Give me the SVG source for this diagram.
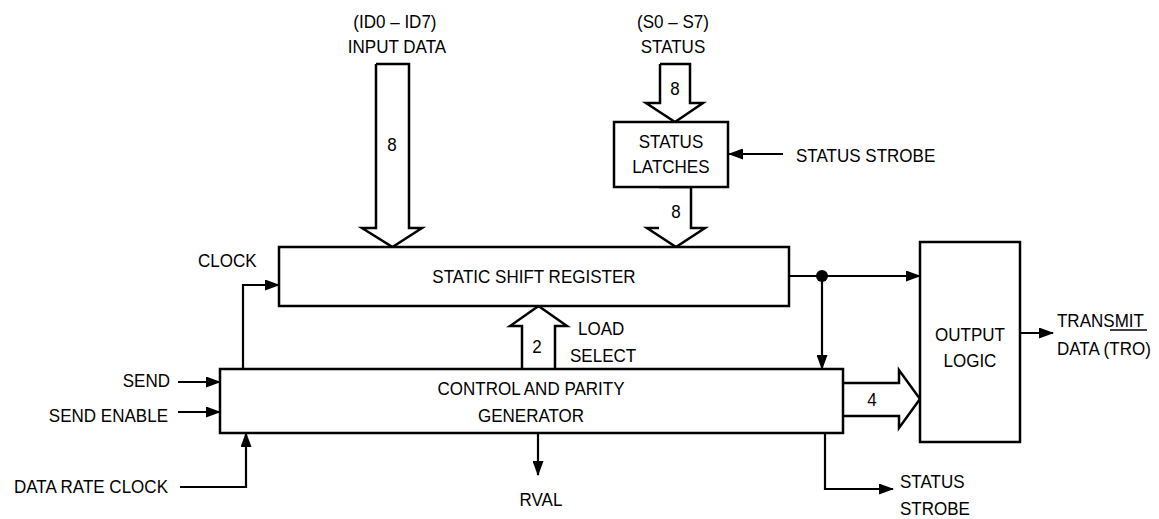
<svg xmlns="http://www.w3.org/2000/svg" width="1159" height="519" viewBox="0 0 1159 519">
<style>
text{font-family:"Liberation Sans",Arial,Helvetica,sans-serif;font-size:18.5px;fill:#000}
.m{text-anchor:middle}
.e{text-anchor:end}
.box{fill:#fff;stroke:#000;stroke-width:2.5}
.bus{fill:#fff;stroke:#000;stroke-width:2.5;stroke-linejoin:miter}
.ln{fill:none;stroke:#000;stroke-width:2.2}
.arr{marker-end:url(#ah)}
</style>
<defs>
<marker id="ah" markerUnits="userSpaceOnUse" markerWidth="15" markerHeight="11" refX="14" refY="5.5" orient="auto">
<path d="M0,0 L15,5.5 L0,11 z" fill="#000"/>
</marker>
</defs>
<rect width="1159" height="519" fill="#fff"/>

<g id="connectors">
<polyline class="bus" points="376,64 409,64 409,228 422,228 392.5,247 362,228 376,228 376,64"/>
<polyline class="bus" points="660,64 690,64 690,103 703,103 675,122 646,103 660,103 660,64"/>
<polyline class="bus" points="659,187 691,187 691,228 705,228 676,247 647,228 659,228"/>
<polyline class="bus" points="522,369 522,326 510,326 538.5,306 567,326 555,326 555,369"/>
<polyline class="bus" points="843,383 899,383 899,370 920,399 899,428 899,416 843,416"/>
<line class="ln arr" x1="783" y1="154" x2="729" y2="154"/>
<line class="ln arr" x1="789" y1="276" x2="920" y2="276"/>
<circle cx="822" cy="276" r="6" fill="#000"/>
<line class="ln arr" x1="822" y1="276" x2="822" y2="369"/>
<polyline class="ln arr" points="243,369 243,285 279,285"/>
<line class="ln arr" x1="178" y1="382" x2="220" y2="382"/>
<line class="ln arr" x1="178" y1="412" x2="220" y2="412"/>
<polyline class="ln arr" points="180,487 246,487 246,433"/>
<line class="ln arr" x1="538" y1="433" x2="538" y2="475"/>
<polyline class="ln arr" points="825,433 825,489 893,489"/>
<line class="ln arr" x1="1020" y1="333" x2="1053" y2="333"/>
</g>

<g id="status-latches">
<rect class="box" x="614" y="122" width="114" height="65"/>
<g transform="scale(0.92 1)">
<text class="m" x="729.3" y="148">STATUS</text>
<text class="m" x="729.3" y="173">LATCHES</text>
</g>
</g>

<g id="shift-register">
<rect class="box" x="279" y="247" width="510" height="59"/>
<g transform="scale(0.92 1)">
<text class="m" x="580.4" y="283">STATIC SHIFT REGISTER</text>
</g>
</g>

<g id="control-parity">
<rect class="box" x="220" y="369" width="623" height="64"/>
<g transform="scale(0.92 1)">
<text class="m" x="577.2" y="395">CONTROL AND PARITY</text>
<text class="m" x="577.2" y="422">GENERATOR</text>
</g>
</g>

<g id="output-logic">
<rect class="box" x="920" y="242" width="100" height="200"/>
<g transform="scale(0.92 1)">
<text class="m" x="1054.3" y="341">OUTPUT</text>
<text class="m" x="1054.3" y="367">LOGIC</text>
</g>
</g>

<g id="labels">
<g transform="scale(0.92 1)">
<text class="m" x="429.3" y="28">(ID0 – ID7)</text>
<text class="m" x="431.5" y="53">INPUT DATA</text>
<text class="m" x="731.5" y="28">(S0 – S7)</text>
<text class="m" x="731.5" y="53">STATUS</text>
<text class="m" x="426.1" y="151">8</text>
<text class="m" x="733.7" y="95">8</text>
<text class="m" x="734.8" y="218">8</text>
<text x="865.2" y="162">STATUS STROBE</text>
<text x="215.2" y="267">CLOCK</text>
<text class="m" x="583.7" y="353">2</text>
<text x="628.3" y="335">LOAD</text>
<text x="619.6" y="362">SELECT</text>
<text class="m" x="947.8" y="406">4</text>
<text class="m" x="588" y="506">RVAL</text>
<text x="978.3" y="488">STATUS</text>
<text x="978.3" y="515">STROBE</text>
<text x="1148.9" y="327">TRANSMIT</text>
<text x="1148.9" y="355">DATA (TRO)</text>
<text class="e" x="184.8" y="387">SEND</text>
<text class="e" x="182.6" y="422">SEND ENABLE</text>
<text class="e" x="182.6" y="493">DATA RATE CLOCK</text>
</g>
<line x1="1110" y1="330" x2="1147" y2="330" stroke="#000" stroke-width="1.3"/>
</g>
</svg>
